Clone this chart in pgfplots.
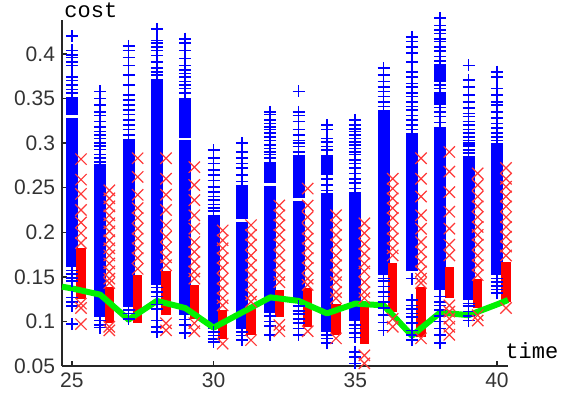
\documentclass[border=0pt]{standalone}
\usepackage{fontspec}
\setmainfont{Liberation Sans}
\newfontfamily\monofont{Liberation Mono}
\usepackage{pgfplots}
\pgfplotsset{compat=1.18}
\definecolor{mblue}{rgb}{0,0,1}
\definecolor{mred}{RGB}{255,55,55}
\definecolor{mgreen}{rgb}{0,0.95,0}
\begin{document}
\begin{tikzpicture}
\begin{axis}[name=ax,
  width=223pt, height=173pt, scale only axis,
  xmin=24.65, xmax=40.39, ymin=0.05, ymax=0.438,
  axis lines=left, axis line style={-, line width=0.9pt, black!85},
  tick align=inside, major tick length=2.5pt, tick style={black!85, line width=0.7pt},
  xtick={25,30,35,40}, xticklabels={25,30,35,40},
  ytick={0.05,0.1,0.15,0.2,0.25,0.3,0.35,0.4},
  yticklabels={0.05,0.1,0.15,0.2,0.25,0.3,0.35,0.4},
  ticklabel style={font=\fontsize{10.5}{12}\selectfont, text=black!80},
  clip=false]

% blue: dense parts drawn as solid columns
\addplot[mblue, line width=6pt, unbounded coords=jump, forget plot] coordinates {
(25,.161)(25,.328)(25,nan)(25,.332)(25,.352)(25,nan)
(26,.105)(26,.277)(26,nan)
(27,.116)(27,.305)(27,nan)
(28,.141)(28,.372)(28,nan)
(29,.107)(29,.303)(29,nan)(29,.306)(29,.350)(29,nan)
(30,.092)(30,.219)(30,nan)
(31,.092)(31,.212)(31,nan)(31,.215)(31,.253)(31,nan)
(32,.109)(32,.252)(32,nan)(32,.255)(32,.279)(32,nan)
(33,.122)(33,.235)(33,nan)(33,.238)(33,.287)(33,nan)
(34,.088)(34,.244)(34,nan)(34,.264)(34,.287)(34,nan)
(35,.100)(35,.245)(35,nan)
(36,.152)(36,.337)(36,nan)
(37,.156)(37,.311)(37,nan)
(38,.135)(38,.318)(38,nan)(38,.343)(38,.357)(38,nan)(38,.369)(38,.389)(38,nan)
(39,.124)(39,.286)(39,nan)(39,.296)(39,.301)(39,nan)
(40,.152)(40,.300)
};
% blue: sparse samples
\addplot[only marks, mark=+, mark size=3pt, mblue, line width=0.8pt] coordinates {
(25,.420)(25,.404)(25,.399)(25,.396)(25,.391)(25,.387)(25,.374)(25,.370)(25,.365)(25,.360)(25,.356)
(25,.157)(25,.153)(25,.149)(25,.145)(25,.127)(25,.122)(25,.117)(25,.097)
(26,.358)(26,.350)(26,.343)(26,.335)(26,.331)(26,.324)(26,.318)(26,.313)(26,.309)(26,.305)
(26,.300)(26,.297)(26,.293)(26,.287)(26,.283)(26,.279)(26,.101)(26,.096)(26,.093)
(27,.409)(27,.404)(27,.396)(27,.387)(27,.376)(27,.365)(27,.354)(27,.348)(27,.343)(27,.337)
(27,.332)(27,.326)(27,.320)(27,.315)(27,.309)(27,.113)(27,.109)(27,.103)
(28,.428)(28,.415)(28,.412)(28,.408)(28,.404)(28,.398)(28,.391)(28,.384)(28,.380)(28,.376)
(28,.138)(28,.133)(28,.128)(28,.119)(28,.114)(28,.101)(28,.094)(28,.088)
(29,.417)(29,.412)(29,.404)(29,.395)(29,.387)(29,.382)(29,.378)(29,.374)(29,.369)(29,.365)
(29,.361)(29,.356)(29,.102)(29,.096)(29,.087)
(30,.292)(30,.283)(30,.277)(30,.270)(30,.264)(30,.258)(30,.251)(30,.245)(30,.240)(30,.236)
(30,.231)(30,.227)(30,.224)(30,.088)(30,.084)(30,.080)(30,.077)
(31,.300)(31,.290)(31,.283)(31,.277)(31,.272)(31,.264)(31,.257)(31,.088)(31,.084)(31,.079)
(32,.335)(32,.332)(32,.326)(32,.322)(32,.318)(32,.315)(32,.311)(32,.307)(32,.303)(32,.298)
(32,.294)(32,.290)(32,.287)(32,.283)(32,.106)(32,.100)(32,.095)(32,.085)
(33,.358)(33,.335)(33,.331)(33,.324)(33,.315)(33,.309)(33,.303)(33,.300)(33,.296)(33,.290)
(33,.117)(33,.112)(33,.108)(33,.103)(33,.098)(33,.092)(33,.085)
(34,.320)(34,.315)(34,.305)(34,.301)(34,.296)(34,.292)(34,.260)(34,.253)(34,.247)
(34,.085)(34,.081)(34,.076)
(35,.326)(35,.320)(35,.316)(35,.313)(35,.309)(35,.305)(35,.301)(35,.298)(35,.294)(35,.290)
(35,.287)(35,.281)(35,.277)(35,.272)(35,.266)(35,.260)(35,.255)(35,.249)
(35,.096)(35,.092)(35,.087)(35,.082)(35,.066)(35,.060)(35,.053)
(36,.384)(36,.376)(36,.369)(36,.363)(36,.358)(36,.352)(36,.346)(36,.341)
(36,.148)(36,.145)(36,.139)(36,.133)(36,.128)(36,.122)(36,.115)(36,.107)(36,.099)(36,.090)
(37,.419)(37,.414)(37,.408)(37,.401)(37,.391)(37,.380)(37,.374)(37,.367)(37,.363)(37,.356)
(37,.352)(37,.346)(37,.341)(37,.337)(37,.331)(37,.326)(37,.320)(37,.315)
(37,.148)(37,.124)(37,.118)(37,.114)(37,.109)(37,.105)(37,.098)(37,.090)(37,.085)(37,.079)
(38,.440)(38,.432)(38,.427)(38,.423)(38,.417)(38,.414)(38,.408)(38,.403)(38,.397)(38,.392)
(38,.365)(38,.361)(38,.340)(38,.335)(38,.330)(38,.323)
(38,.128)(38,.122)(38,.118)(38,.113)(38,.106)(38,.100)(38,.092)(38,.085)(38,.076)
(39,.387)(39,.371)(39,.363)(39,.354)(39,.346)(39,.339)(39,.333)(39,.330)(39,.324)(39,.320)
(39,.315)(39,.311)(39,.307)(39,.303)(39,.292)(39,.289)(39,.120)(39,.117)(39,.111)(39,.106)(39,.101)
(40,.380)(40,.374)(40,.361)(40,.354)(40,.346)(40,.343)(40,.335)(40,.328)(40,.322)(40,.317)
(40,.311)(40,.307)(40,.303)(40,.148)(40,.144)(40,.140)(40,.136)(40,.132)
};

% red: dense parts
\addplot[red, line width=4.8pt, unbounded coords=jump, forget plot] coordinates {
(25.32,.125)(25.32,.182)(25.32,nan)
(26.32,.098)(26.32,.139)(26.32,nan)
(27.32,.098)(27.32,.152)(27.32,nan)
(28.32,.107)(28.32,.156)(28.32,nan)
(29.32,.103)(29.32,.141)(29.32,nan)
(30.32,.080)(30.32,.113)(30.32,nan)
(31.32,.085)(31.32,.117)(31.32,nan)
(32.32,.105)(32.32,.135)(32.32,nan)
(33.32,.094)(33.32,.137)(33.32,nan)
(34.32,.085)(34.32,.120)(34.32,nan)
(35.32,.075)(35.32,.122)(35.32,nan)
(36.32,.111)(36.32,.165)(36.32,nan)
(37.32,.082)(37.32,.139)(37.32,nan)
(38.32,.126)(38.32,.161)(38.32,nan)
(39.32,.115)(39.32,.148)(39.32,nan)
(40.32,.122)(40.32,.167)
};
% red: sparse samples
\addplot[only marks, mark=x, mark size=4pt, mred, line width=0.6pt] coordinates {
(25.32,.282)(25.32,.259)(25.32,.243)(25.32,.225)(25.32,.211)(25.32,.199)(25.32,.188)(25.32,.120)(25.32,.115)(25.32,.097)
(26.32,.247)(26.32,.238)(26.32,.229)(26.32,.219)(26.32,.210)(26.32,.201)(26.32,.191)(26.32,.182)
(26.32,.174)(26.32,.165)(26.32,.156)(26.32,.148)(26.32,.143)(26.32,.094)(26.32,.090)
(27.32,.283)(27.32,.262)(27.32,.242)(27.32,.227)(27.32,.216)(27.32,.204)(27.32,.193)(27.32,.182)(27.32,.171)(27.32,.159)
(28.32,.283)(28.32,.260)(28.32,.242)(28.32,.225)(28.32,.208)(28.32,.195)(28.32,.183)(28.32,.172)(28.32,.163)(28.32,.098)(28.32,.090)
(29.32,.273)(29.32,.253)(29.32,.236)(29.32,.219)(29.32,.204)(29.32,.189)(29.32,.178)(29.32,.167)(29.32,.156)(29.32,.148)(29.32,.098)(29.32,.089)
(30.32,.202)(30.32,.191)(30.32,.182)(30.32,.171)(30.32,.160)(30.32,.148)(30.32,.137)(30.32,.126)(30.32,.118)(30.32,.075)
(31.32,.208)(31.32,.197)(31.32,.186)(31.32,.174)(31.32,.163)(31.32,.152)(31.32,.141)(31.32,.130)(31.32,.122)(31.32,.079)
(32.32,.230)(32.32,.219)(32.32,.208)(32.32,.197)(32.32,.186)(32.32,.174)(32.32,.163)(32.32,.152)(32.32,.144)(32.32,.096)(32.32,.089)
(33.32,.249)(33.32,.230)(33.32,.217)(33.32,.204)(33.32,.193)(33.32,.182)(33.32,.171)(33.32,.160)(33.32,.148)(33.32,.141)(33.32,.089)
(34.32,.219)(34.32,.208)(34.32,.197)(34.32,.186)(34.32,.174)(34.32,.163)(34.32,.152)(34.32,.144)(34.32,.133)(34.32,.126)(34.32,.081)
(35.32,.210)(35.32,.199)(35.32,.187)(35.32,.176)(35.32,.165)(35.32,.156)(35.32,.144)(35.32,.133)(35.32,.126)(35.32,.062)(35.32,.053)
(36.32,.260)(36.32,.249)(36.32,.238)(36.32,.227)(36.32,.216)(36.32,.204)(36.32,.193)(36.32,.182)(36.32,.174)(36.32,.103)(36.32,.094)
(37.32,.283)(37.32,.260)(37.32,.240)(37.32,.219)(37.32,.204)(37.32,.189)(37.32,.178)(37.32,.167)(37.32,.156)(37.32,.148)(37.32,.143)(37.32,.081)
(38.32,.290)(38.32,.268)(38.32,.245)(38.32,.223)(38.32,.204)(38.32,.186)(38.32,.174)(38.32,.118)(38.32,.111)(38.32,.103)(38.32,.094)(38.32,.085)
(39.32,.266)(39.32,.253)(39.32,.240)(39.32,.229)(39.32,.217)(39.32,.206)(39.32,.197)(39.32,.186)(39.32,.174)(39.32,.163)(39.32,.152)(39.32,.107)(39.32,.101)
(40.32,.272)(40.32,.260)(40.32,.251)(40.32,.240)(40.32,.229)(40.32,.217)(40.32,.206)(40.32,.195)(40.32,.184)(40.32,.174)(40.32,.115)
};

% green curve
\addplot[mgreen, line width=3pt, line join=round] coordinates {
(24.65,.139)(25,.137)(26,.130)(27,.102)(28,.123)(29,.115)(30,.093)(31,.110)(32,.127)
(33,.123)(34,.109)(35,.120)(36,.118)(37,.084)(38,.110)(39,.107)(40,.119)(40.39,.124)
};

\node[anchor=base west, font=\monofont\fontsize{11}{12}\selectfont, inner sep=0pt]
  at (rel axis cs:0,1) [xshift=1pt, yshift=1.5pt] {cost};
\node[anchor=base west, font=\monofont\fontsize{11}{12}\selectfont, inner sep=0pt]
  at (rel axis cs:1,0) [xshift=-1.5pt, yshift=4pt] {time};
\end{axis}
\pgfresetboundingbox
\path[use as bounding box] ([xshift=-31pt,yshift=-18.5pt]ax.south west) rectangle ([xshift=26.5pt,yshift=10pt]ax.north east);
\end{tikzpicture}
\end{document}
